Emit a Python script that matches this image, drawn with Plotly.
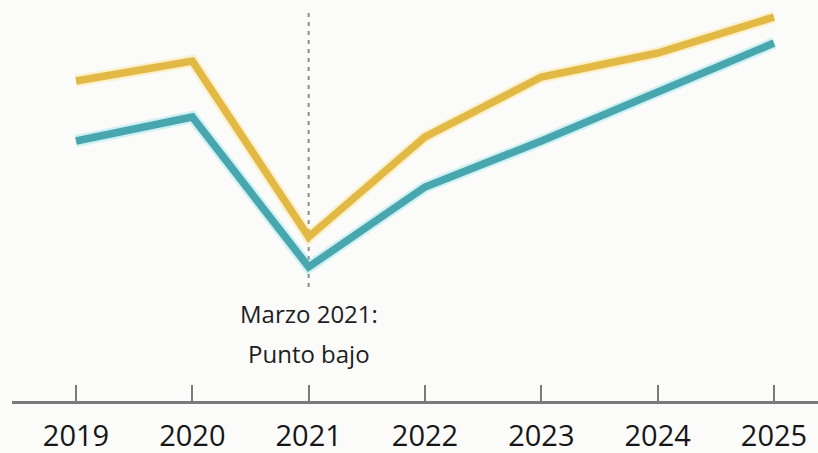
import plotly.graph_objects as go

years = [2019, 2020, 2021, 2022, 2023, 2024, 2025]
tick_labels = ["2019", "2020", "2021", "2022", "2023", "2024", "2025"]
serie_amarilla = [80, 85, 41, 66, 81, 87, 96]
serie_turquesa = [65, 71, 33.5, 53.5, 65, 77, 89.5]
marker_year = 2021
marker_span = [28.5, 97.25]
annotation_lines = ["Marzo 2021:", "Punto bajo"]
annotation_ys = [22, 12]

YELLOW = "#E3B946"
TEAL = "#48A6AE"
BG = "#FBFBFA"

fig = go.Figure()

for vals, col, glow in [(serie_amarilla, YELLOW, "rgba(252,220,100,0.30)"),
                        (serie_turquesa, TEAL, "rgba(110,220,230,0.30)")]:
    fig.add_trace(go.Scatter(x=years, y=vals, mode="lines",
                             line=dict(color=glow, width=12),
                             hoverinfo="skip", showlegend=False, cliponaxis=False))
    fig.add_trace(go.Scatter(x=years, y=vals, mode="lines",
                             line=dict(color=col, width=7.5),
                             showlegend=False, cliponaxis=False))

fig.add_shape(type="line", x0=marker_year, x1=marker_year,
              y0=marker_span[0], y1=marker_span[1], xref="x", yref="y",
              line=dict(color="#8E8E8E", width=2, dash="4px,5px"), layer="below")

for txt, yv in zip(annotation_lines, annotation_ys):
    fig.add_annotation(x=marker_year, y=yv, xref="x", yref="y",
                       text=txt, showarrow=False,
                       font=dict(family="Open Sans", size=24, color="#1E1E1E", weight=500),
                       align="center", yanchor="middle")

fig.update_layout(
    width=818, height=453,
    margin=dict(l=12, r=0, t=0, b=52),
    paper_bgcolor=BG, plot_bgcolor=BG,
    xaxis=dict(range=[2018.45, 2025.378], tickvals=years, ticktext=tick_labels,
               showgrid=False, zeroline=False, showline=True, linecolor="#7A7A7A",
               linewidth=3, ticks="inside", ticklen=16, tickwidth=2, tickcolor="#7A7A7A",
               tickfont=dict(family="Open Sans", size=29, color="#161616", weight=500),
               ticklabelstandoff=7, automargin=False, fixedrange=True),
    yaxis=dict(range=[0, 100.25], visible=False, showgrid=False, zeroline=False,
               automargin=False, fixedrange=True),
)

fig.write_html("out.html", config={"displayModeBar": False},
               post_script="document.body.style.margin='0';document.body.style.overflow='hidden';")
